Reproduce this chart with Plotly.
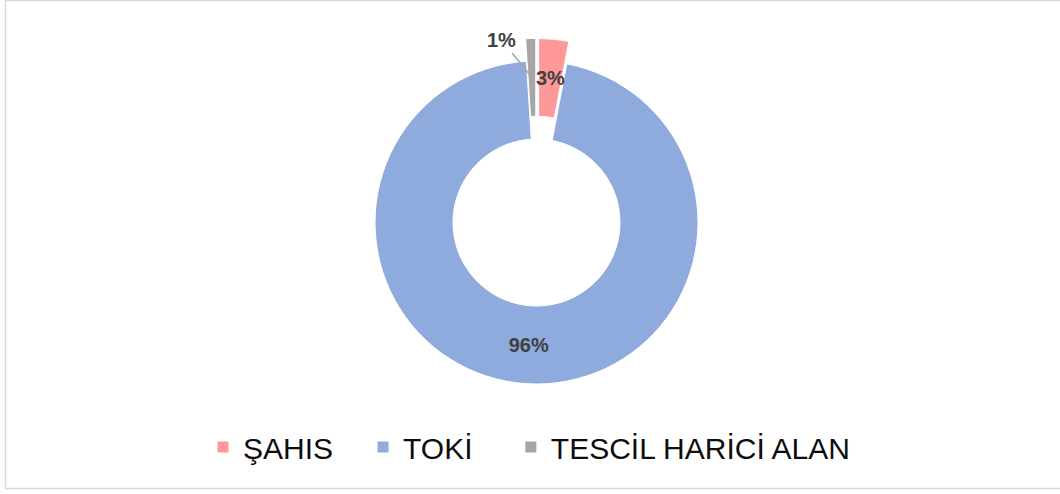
import math
import plotly.graph_objects as go

# ---- data ----
labels = ["ŞAHIS", "TOKİ", "TESCİL HARİCİ ALAN"]
values = [3, 96, 1]
colors = ["#FF9999", "#8FAADC", "#A6A6A6"]
pulls = [0.14, 0.0, 0.14]

# legend spacing (non-breaking spaces after the names, as in the original layout)
legend_pad = [3, 4, 0]
legend_names = [lab + "\u00a0" * n for lab, n in zip(labels, legend_pad)]

# ---- layout constants (pixels) ----
W, H = 1060, 494
CX, CY = 536.5, 222.5      # pie centre
R = 161.5                  # outer radius
HOLE = 0.517
maxpull = max(pulls)
box_h = 2 * R * (1 + maxpull)
box_w = box_h
dom_x = [(CX - box_w / 2) / W, (CX + box_w / 2) / W]
dom_y = [1 - (CY + box_h / 2) / H, 1 - (CY - box_h / 2) / H]

total = sum(values)
cum = 0
mids = []
for v in values:
    mids.append(360 * (cum + v / 2) / total)
    cum += v


def label_point(i):
    """pixel position at the middle of the ring of slice i, including its pull"""
    a = math.radians(mids[i])
    rr = (HOLE * R + R) / 2 + pulls[i] * R
    return CX + rr * math.sin(a), CY - rr * math.cos(a)


def to_paper(x, y):
    return x / W, 1 - y / H


pct = [f"{round(100 * v / total)}%" for v in values]
label_font = dict(family="Liberation Sans", size=20, color="#404040", weight="bold")

fig = go.Figure(
    go.Pie(
        labels=legend_names,
        values=values,
        hole=HOLE,
        sort=False,
        direction="clockwise",
        rotation=0,
        pull=pulls,
        marker=dict(colors=colors, line=dict(color="white", width=1)),
        texttemplate=["", "%{percent:.0%}", ""],
        textposition="inside",
        insidetextorientation="horizontal",
        textfont=label_font,
        domain=dict(x=dom_x, y=dom_y),
        showlegend=True,
    )
)

annotations = []
# 3% label on the ŞAHIS slice
x3, y3 = to_paper(*label_point(0))
annotations.append(dict(
    x=x3, y=y3, xref="paper", yref="paper", text=pct[0], showarrow=False,
    xanchor="center", yanchor="middle", font=label_font,
))
# 1% label with leader line to the TESCİL slice
x1, y1 = to_paper(*label_point(2))
annotations.append(dict(
    x=x1, y=y1, xref="paper", yref="paper", text=pct[2], showarrow=True,
    ax=-30, ay=-37, arrowhead=0, arrowwidth=1.5, arrowcolor="#A6A6A6", standoff=0,
    font=label_font,
))

fig.update_layout(
    width=W, height=H,
    margin=dict(l=0, r=0, t=0, b=0),
    paper_bgcolor="white",
    plot_bgcolor="white",
    annotations=annotations,
    legend=dict(
        orientation="h",
        x=(223 - 20) / W, xanchor="left",
        y=1 - 447 / H, yanchor="middle",
        font=dict(family="Liberation Sans", size=30, color="#0D0D0D"),
        bgcolor="rgba(0,0,0,0)",
    ),
    shapes=[dict(
        type="rect", xref="paper", yref="paper",
        x0=5.5 / W, x1=1.003, y0=1 - 488.5 / H, y1=1 - 0.5 / H,
        line=dict(color="#D9D9D9", width=1.5), fillcolor="rgba(0,0,0,0)", layer="below",
    )],
)

fig.write_html(
    "out.html",
    config={"displayModeBar": False},
    post_script="document.body.style.margin='0';",
)
